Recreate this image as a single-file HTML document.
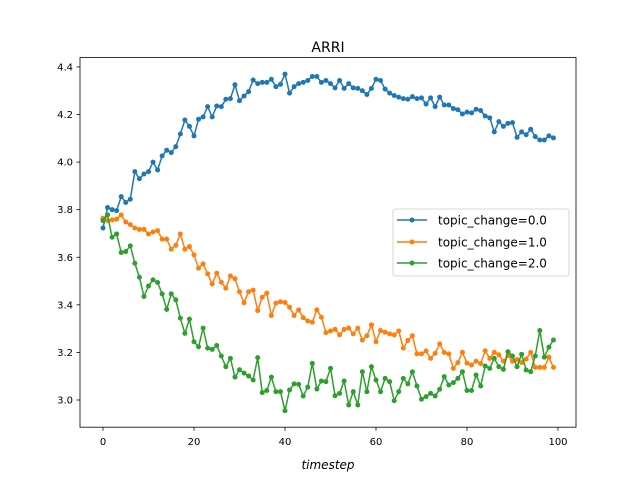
<!DOCTYPE html>
<html><head><meta charset="utf-8"><style>
body{margin:0;background:#fff}
svg{display:block;font-family:"DejaVu Sans","Liberation Sans",sans-serif}
</style></head><body>
<svg id="chart" width="640" height="480" viewBox="0 0 640 480">
<rect width="640" height="480" fill="#fff"/>
<g id="plot"></g>
<rect x="80" y="57.6" width="496" height="369.6" fill="none" stroke="#000" stroke-width="0.8"/>
<g id="xticks"></g>
<g id="yticks"></g>
<text x="328" y="52" text-anchor="middle" font-size="14">ARRI</text>
<text x="328" y="469" text-anchor="middle" font-size="12" font-style="italic">timestep</text>
<g>
<rect x="393" y="209" width="176" height="67" rx="2" fill="#fff" fill-opacity="0.8" stroke="#ccc" stroke-width="0.8"/>
<g><line x1="397" y1="220" x2="427" y2="220" stroke="#1f77b4" stroke-width="1.5"/><circle cx="412" cy="220" r="2.5" fill="#1f77b4"/><text x="438" y="224.5" font-size="12">topic_change=0.0</text></g>
<g><line x1="397" y1="242" x2="427" y2="242" stroke="#ff7f0e" stroke-width="1.5"/><circle cx="412" cy="242" r="2.5" fill="#ff7f0e"/><text x="438" y="246.5" font-size="12">topic_change=1.0</text></g>
<g><line x1="397" y1="263" x2="427" y2="263" stroke="#2ca02c" stroke-width="1.5"/><circle cx="412" cy="263" r="2.5" fill="#2ca02c"/><text x="438" y="267.5" font-size="12">topic_change=2.0</text></g>
</g>
</svg>
<script>
const series0 = [3.723,3.809,3.80,3.796,3.855,3.83,3.844,3.96,3.93,3.95,3.96,4.0,3.967,4.026,4.05,4.04,4.065,4.118,4.177,4.15,4.11,4.18,4.19,4.233,4.19,4.236,4.233,4.264,4.267,4.325,4.258,4.278,4.296,4.345,4.33,4.335,4.335,4.348,4.317,4.327,4.37,4.29,4.317,4.33,4.335,4.343,4.36,4.36,4.335,4.343,4.33,4.312,4.343,4.31,4.33,4.312,4.31,4.30,4.284,4.31,4.348,4.343,4.307,4.29,4.28,4.273,4.267,4.264,4.275,4.267,4.27,4.244,4.27,4.233,4.273,4.24,4.24,4.225,4.22,4.202,4.21,4.207,4.222,4.217,4.194,4.186,4.127,4.17,4.15,4.163,4.166,4.104,4.127,4.115,4.138,4.107,4.093,4.093,4.11,4.102];
const series1 = [3.764,3.754,3.757,3.76,3.778,3.748,3.737,3.723,3.717,3.717,3.698,3.706,3.712,3.676,3.676,3.634,3.65,3.698,3.634,3.645,3.61,3.554,3.572,3.53,3.488,3.533,3.495,3.47,3.521,3.51,3.455,3.409,3.455,3.462,3.376,3.432,3.449,3.355,3.407,3.413,3.41,3.39,3.355,3.379,3.346,3.332,3.327,3.379,3.348,3.283,3.29,3.297,3.274,3.297,3.302,3.278,3.302,3.252,3.27,3.316,3.245,3.292,3.285,3.278,3.274,3.29,3.218,3.25,3.27,3.194,3.194,3.206,3.175,3.196,3.236,3.2,3.194,3.133,3.157,3.2,3.155,3.147,3.163,3.153,3.207,3.175,3.2,3.19,3.163,3.187,3.163,3.17,3.157,3.172,3.2,3.137,3.137,3.137,3.18,3.137];
const series2 = [3.754,3.778,3.684,3.698,3.62,3.624,3.648,3.575,3.516,3.435,3.479,3.505,3.494,3.446,3.381,3.446,3.421,3.344,3.28,3.34,3.245,3.224,3.302,3.218,3.213,3.229,3.185,3.14,3.175,3.096,3.127,3.113,3.101,3.084,3.178,3.031,3.04,3.096,3.035,3.035,2.955,3.042,3.068,3.066,3.017,3.054,3.154,3.046,3.08,3.077,3.133,3.018,3.028,3.08,2.979,3.035,2.979,3.119,3.035,3.14,3.084,3.035,3.091,3.077,2.997,3.035,3.091,3.068,3.118,3.059,3.003,3.014,3.028,3.017,3.045,3.098,3.063,3.073,3.091,3.119,3.04,3.04,3.105,3.059,3.143,3.133,3.175,3.14,3.129,3.203,3.185,3.14,3.192,3.126,3.119,3.185,3.292,3.18,3.222,3.252];
const xTicks = [0,20,40,60,80,100];
const yTicks = [3.0,3.2,3.4,3.6,3.8,4.0,4.2,4.4];
const colors = ['#1f77b4','#ff7f0e','#2ca02c'];

const NS='http://www.w3.org/2000/svg';
function xs(v){return 103 + v*4.55;}
function ys(v){return 400 - (v-3.0)*237.9;}
const plot=document.getElementById('plot');
[series0,series1,series2].forEach((s,i)=>{
  const g=document.createElementNS(NS,'g');
  
  
  const pl=document.createElementNS(NS,'polyline');
  pl.setAttribute('points',s.map((v,k)=>xs(k)+','+ys(v)).join(' '));
  pl.setAttribute('fill','none');pl.setAttribute('stroke',colors[i]);pl.setAttribute('stroke-width','1.5');
  
  
  g.appendChild(pl);
  s.forEach((v,k)=>{
    const c=document.createElementNS(NS,'circle');
    c.setAttribute('cx',xs(k));c.setAttribute('cy',ys(v));c.setAttribute('r','2.5');c.setAttribute('fill',colors[i]);
    
    
    g.appendChild(c);
  });
  plot.appendChild(g);
});
const xg=document.getElementById('xticks');
xTicks.forEach(t=>{
  const x=xs(t);
  const l=document.createElementNS(NS,'line');
  l.setAttribute('x1',x);l.setAttribute('x2',x);l.setAttribute('y1',427.2);l.setAttribute('y2',430.7);l.setAttribute('stroke','#000');l.setAttribute('stroke-width','0.8');
  
  
  xg.appendChild(l);
  const tx=document.createElementNS(NS,'text');
  tx.setAttribute('x',x);tx.setAttribute('y',445);tx.setAttribute('text-anchor','middle');tx.setAttribute('font-size','10');
  tx.textContent=t;
  
  
  xg.appendChild(tx);
});
const yg=document.getElementById('yticks');
yTicks.forEach(t=>{
  const y=ys(t);
  const l=document.createElementNS(NS,'line');
  l.setAttribute('x1',76.5);l.setAttribute('x2',80);l.setAttribute('y1',y);l.setAttribute('y2',y);l.setAttribute('stroke','#000');l.setAttribute('stroke-width','0.8');
  
  
  yg.appendChild(l);
  const tx=document.createElementNS(NS,'text');
  tx.setAttribute('x',73);tx.setAttribute('y',y+3.5);tx.setAttribute('text-anchor','end');tx.setAttribute('font-size','10');
  tx.textContent=t.toFixed(1);
  
  
  yg.appendChild(tx);
});
</script>
</body></html>
